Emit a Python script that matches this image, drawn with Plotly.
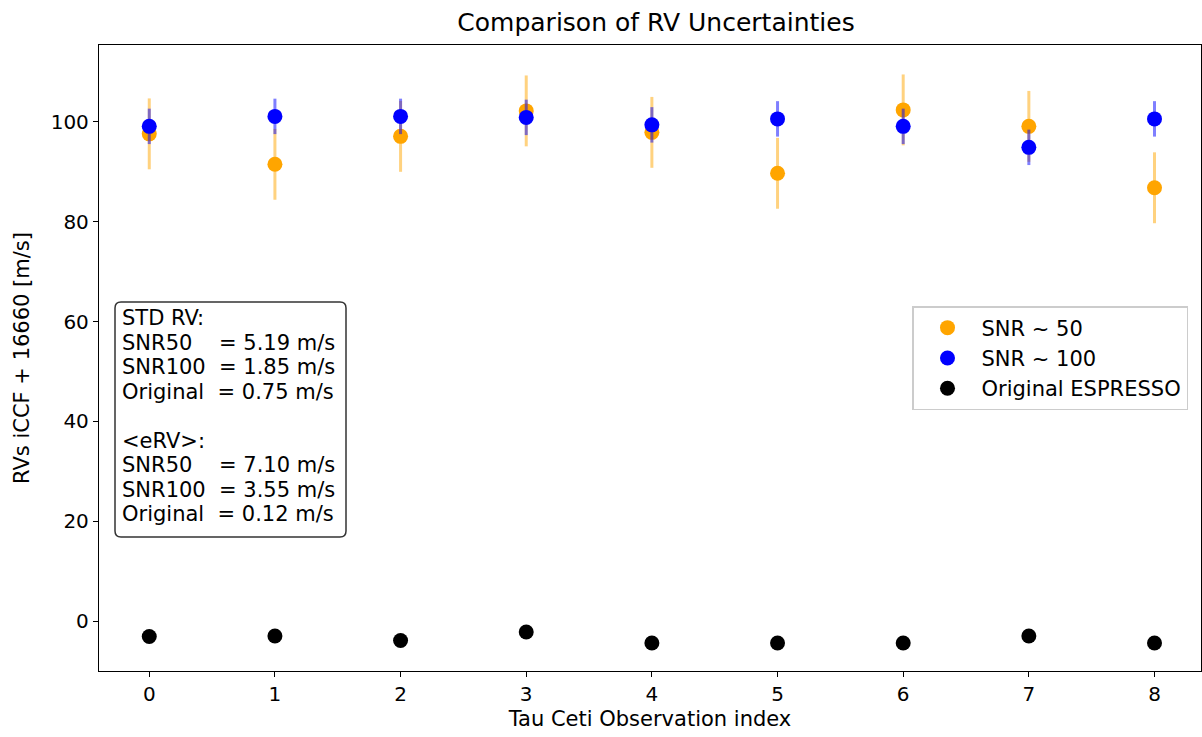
import plotly.graph_objects as go

obs_index = [0, 1, 2, 3, 4, 5, 6, 7, 8]
rv_snr50 = [97.6, 91.5, 97.1, 102.2, 97.9, 89.7, 102.4, 99.1, 86.8]
rv_snr100 = [99.1, 101.1, 101.1, 100.9, 99.4, 100.6, 99.1, 94.9, 100.6]
rv_original = [-3.1, -3.0, -3.9, -2.2, -4.4, -4.4, -4.4, -3.0, -4.4]
err_snr50 = 7.10
err_snr100 = 3.55
err_original = 0.12
y_ticks = [0, 20, 40, 60, 80, 100]

NB = "\u00a0"
box_lines = [
    "STD RV:",
    "SNR50" + NB * 4 + "= 5.19 m/s",
    "SNR100" + NB * 2 + "= 1.85 m/s",
    "Original" + NB * 2 + "= 0.75 m/s",
    "",
    "&lt;eRV&gt;:",
    "SNR50" + NB * 4 + "= 7.10 m/s",
    "SNR100" + NB * 2 + "= 3.55 m/s",
    "Original" + NB * 2 + "= 0.12 m/s",
]

FONT = "DejaVu Sans"
W, H = 1202, 737
PL, PR, PT, PB = 99, 1201, 45, 671


def px(x):
    return (x - PL) / (PR - PL)


def py(y):
    return (PB - y) / (PB - PT)


fig = go.Figure()
fig.add_trace(go.Scatter(
    x=obs_index, y=rv_snr50, mode="markers", name="SNR ~ 50",
    marker=dict(color="orange", size=15),
    error_y=dict(type="constant", value=err_snr50, color="rgba(255,165,0,0.5)", thickness=3, width=0),
))
fig.add_trace(go.Scatter(
    x=obs_index, y=rv_snr100, mode="markers", name="SNR ~ 100",
    marker=dict(color="blue", size=15),
    error_y=dict(type="constant", value=err_snr100, color="rgba(0,0,255,0.5)", thickness=3, width=0),
))
fig.add_trace(go.Scatter(
    x=obs_index, y=rv_original, mode="markers", name="Original ESPRESSO",
    marker=dict(color="black", size=15),
    error_y=dict(type="constant", value=err_original, color="rgba(0,0,0,0.5)", thickness=3, width=0),
))

# text box frame (rounded rectangle)
bx0, bx1, by0, by1, r = 115, 346, 302, 537, 6
x0, x1 = px(bx0), px(bx1)
y0, y1 = py(by1), py(by0)
rx = r / (PR - PL)
ry = r / (PB - PT)
path = (
    f"M {x0+rx},{y0} L {x1-rx},{y0} Q {x1},{y0} {x1},{y0+ry} "
    f"L {x1},{y1-ry} Q {x1},{y1} {x1-rx},{y1} "
    f"L {x0+rx},{y1} Q {x0},{y1} {x0},{y1-ry} "
    f"L {x0},{y0+ry} Q {x0},{y0} {x0+rx},{y0} Z"
)
fig.add_shape(type="path", path=path, xref="paper", yref="paper",
              line=dict(color="#333333", width=1.5), fillcolor="white", layer="above")

for i, line in enumerate(box_lines):
    if not line:
        continue
    fig.add_annotation(
        x=px(120), y=py(318 + i * 24.5), xref="paper", yref="paper",
        xanchor="left", yanchor="middle", text=line, showarrow=False, align="left",
        font=dict(family=FONT, size=21, color="black"),
    )

axis_common = dict(
    showgrid=False, zeroline=False, showline=True, linecolor="black", linewidth=1.3,
    mirror=True, ticks="outside", ticklen=5, tickwidth=1.2, tickcolor="black",
    tickfont=dict(family=FONT, size=20, color="black"),
)

fig.update_layout(
    width=W, height=H,
    margin=dict(l=PL, r=W - PR, t=PT, b=H - PB),
    paper_bgcolor="white", plot_bgcolor="white",
    title=dict(text="Comparison of RV Uncertainties", x=656 / W, xanchor="center", y=1 - 22 / H, yanchor="middle",
               font=dict(family=FONT, size=25, color="black")),
    xaxis=dict(range=[-0.4, 8.37], tickmode="array", tickvals=obs_index,
               title=dict(text="Tau Ceti Observation index", font=dict(family=FONT, size=21, color="black"), standoff=6),
               **axis_common),
    yaxis=dict(range=[-10.0, 115.4], tickmode="array", tickvals=y_ticks,
               title=dict(text="RVs iCCF + 16660 [m/s]", font=dict(family=FONT, size=21, color="black"), standoff=15),
               **axis_common),
    legend=dict(x=px(912), y=py(306), xanchor="left", yanchor="top",
                font=dict(family=FONT, size=21, color="black"),
                bgcolor="white", bordercolor="#cccccc", borderwidth=1.5,
                itemwidth=58),
    showlegend=True,
)

fig.write_html("out.html")
